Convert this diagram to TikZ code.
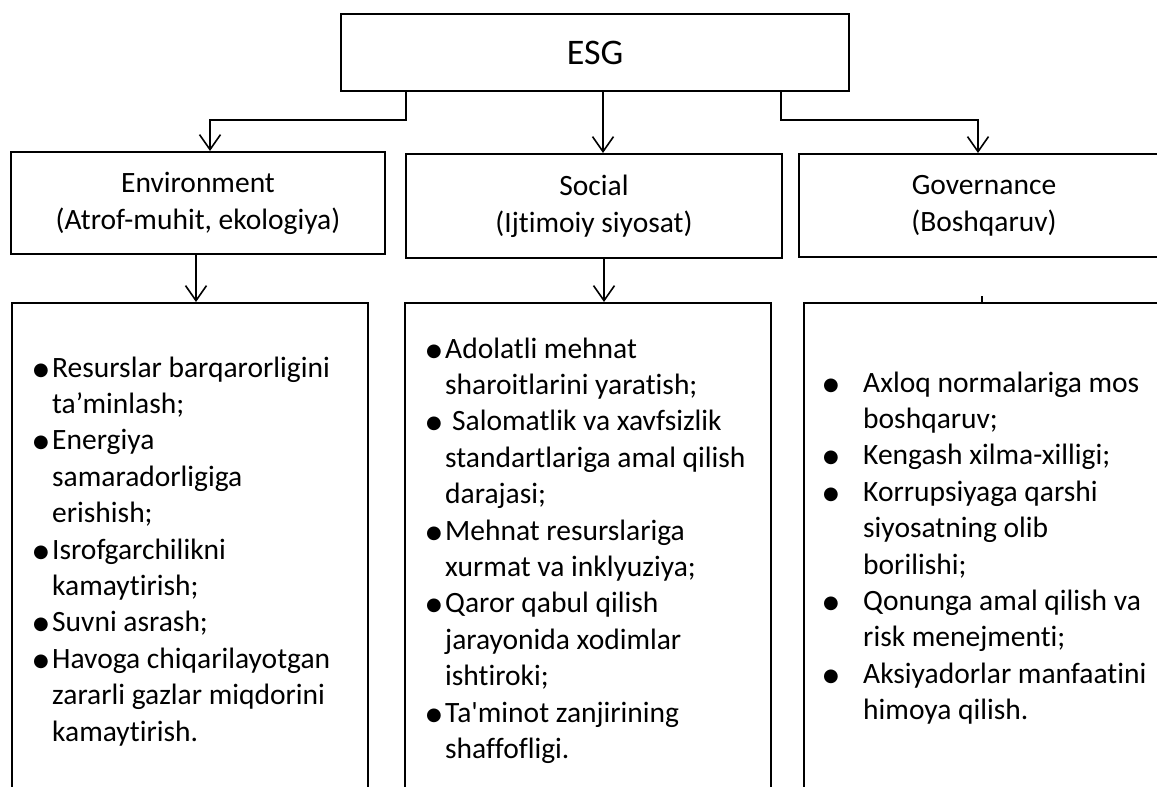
\documentclass[tikz,border=0pt]{standalone}
\usepackage{fontspec}
\setmainfont{Carlito}[Ligatures={TeXOff,NoCommon,NoContextual,NoRare},Contextuals=NoAlternate]
\newfontfamily\dvs{DejaVu Sans}
\usetikzlibrary{arrows.meta}
\newcommand{\bul}{\raisebox{2pt}{\dvs\fontsize{18}{18}\selectfont ●}}
\newcommand{\bb}[1]{\makebox[#1][l]{\hspace{-2pt}\bul}}
\tikzset{
  box/.style={draw=black, line width=2pt, inner sep=0pt, align=center},
  hdr/.style={box, font=\fontsize{29.5}{37}\selectfont},
  list/.style={inner sep=0pt, anchor=base west, font=\fontsize{29.5}{36.4}\selectfont},
  arr/.style={line width=1.6pt, -{Straight Barb[length=15pt,width=21pt,line width=1.6pt]}},
  conn/.style={line width=1.6pt}
}
\begin{document}
\begin{tikzpicture}[x=1pt,y=-1pt]
\useasboundingbox (0,0) rectangle (1157,787);
\clip (0,0) rectangle (1157,787);
\fill[white] (0,0) rectangle (1157,787);
% top
\node[box, minimum width=508pt, minimum height=77pt, font=\fontsize{36}{40}\selectfont] (esg) at (595,52.5) {ESG};
% headers
\node[hdr, minimum width=374pt, minimum height=102pt] (env) at (198,203) {Environment\\(Atrof-muhit, ekologiya)};
\node[hdr, minimum width=376pt, minimum height=104pt] (soc) at (594,206) {Social\\(Ijtimoiy siyosat)};
\node[hdr, minimum width=370pt, minimum height=103pt] (gov) at (984,205.5) {Governance\\(Boshqaruv)};
% bottom boxes
\node[box, minimum width=356pt, minimum height=517pt] (envb) at (190,561.5) {};
\node[box, minimum width=366pt, minimum height=517pt] (socb) at (588,561.5) {};
\node[box, minimum width=370pt, minimum height=517pt] (govb) at (989,561.5) {};
% lists
\node[list] (envt) at (35,377) {\begin{tabular}[t]{@{}l@{}l@{}}
\bb{17pt} & Resurslar barqarorligini\\
 & ta’minlash;\\
\bb{17pt} & Energiya\\
 & samaradorligiga\\
 & erishish;\\
\bb{17pt} & Isrofgarchilikni\\
 & kamaytirish;\\
\bb{17pt} & Suvni asrash;\\
\bb{17pt} & Havoga chiqarilayotgan\\
 & zararli gazlar miqdorini\\
 & kamaytirish.
\end{tabular}};
\node[list] (soct) at (428,358) {\begin{tabular}[t]{@{}l@{}l@{}}
\bb{17pt} & Adolatli mehnat\\
 & sharoitlarini yaratish;\\
\bb{17pt} & \hspace{7pt}Salomatlik va xavfsizlik\\
 & standartlariga amal qilish\\
 & darajasi;\\
\bb{17pt} & Mehnat resurslariga\\
 & xurmat va inklyuziya;\\
\bb{17pt} & Qaror qabul qilish\\
 & jarayonida xodimlar\\
 & ishtiroki;\\
\bb{17pt} & Ta'minot zanjirining\\
 & shaffofligi.
\end{tabular}};
\node[list] (govt) at (825,392) {\begin{tabular}[t]{@{}l@{}l@{}}
\bb{38pt} & Axloq normalariga mos\\
 & boshqaruv;\\
\bb{38pt} & Kengash xilma-xilligi;\\
\bb{38pt} & Korrupsiyaga qarshi\\
 & siyosatning olib\\
 & borilishi;\\
\bb{38pt} & Qonunga amal qilish va\\
 & risk menejmenti;\\
\bb{38pt} & Aksiyadorlar manfaatini\\
 & himoya qilish.
\end{tabular}};
% connectors
\coordinate (a1) at ([xshift=66pt]esg.south west);
\coordinate (a2) at ([xshift=12pt]env.north);
\draw[arr] (a1) -- ++(0,28) -| (a2);
\coordinate (m1) at ([xshift=9pt]soc.north);
\draw[arr] (m1 |- esg.south) -- (m1);
\coordinate (b1) at ([xshift=-69pt]esg.south east);
\coordinate (b2) at ([xshift=-6pt]gov.north);
\draw[arr] (b1) -- ++(0,28) -| (b2);
\coordinate (e1) at ([xshift=-2pt]env.south);
\draw[arr] (e1) -- (e1 |- envb.north);
\coordinate (s1) at ([xshift=10pt]soc.south);
\draw[arr] (s1) -- (s1 |- socb.north);
\coordinate (g1) at ([xshift=-7pt]govb.north);
\draw[conn] (g1) -- ++(0,-6);
\end{tikzpicture}
\end{document}
